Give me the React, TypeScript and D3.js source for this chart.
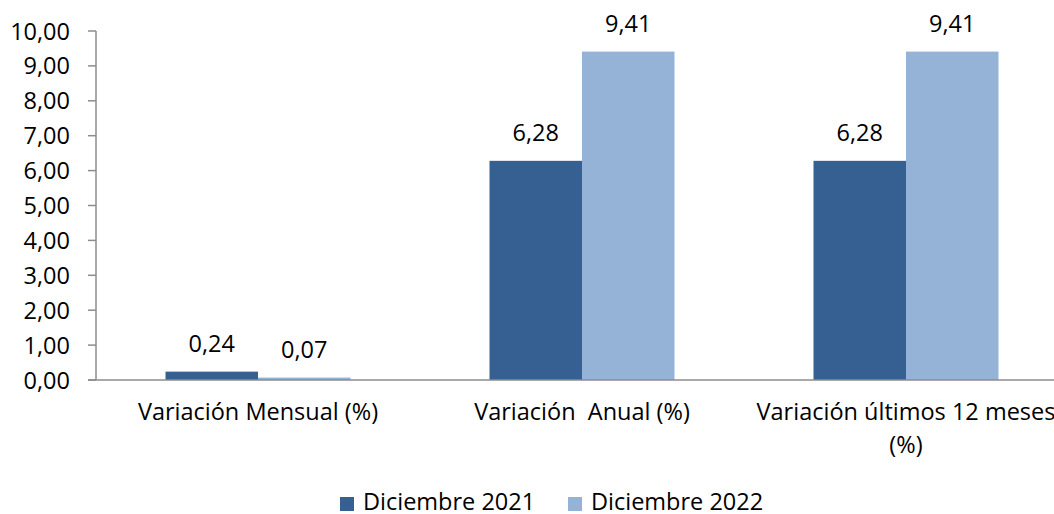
import React from "react";
import * as d3 from "d3";

const categories = ["Variación Mensual (%)", "Variación  Anual (%)", "Variación últimos 12 meses (%)"];
const categoryLines = [["Variación Mensual (%)"], ["Variación  Anual (%)"], ["Variación últimos 12 meses", "(%)"]];
const seriesNames = ["Diciembre 2021", "Diciembre 2022"];
const dic2021 = [0.24, 6.28, 6.28];
const dic2022 = [0.07, 9.41, 9.41];
const yTicks = [0, 1, 2, 3, 4, 5, 6, 7, 8, 9, 10];
const colors = ["#376092", "#95B3D7"];

const W = 1054;
const H = 514;
const FONT = "Open Sans, Liberation Sans, sans-serif";
const FS = 23.5;
const fmt = (v: number) => v.toFixed(2).replace(".", ",");

export default function App() {
  const left = 96;
  const top = 31;
  const bottom = 380;
  const x = d3.scaleBand<string>().domain(categories).range([left, left + 3 * 324]).paddingInner(0).paddingOuter(0);
  const xs = d3.scaleBand<string>().domain(seriesNames).range([0, 185]);
  const y = d3.scaleLinear().domain([0, 10]).range([bottom, top]);
  const series = [dic2021, dic2022];
  return (
    <svg width={W} height={H} style={{ position: "absolute", left: 0, top: 0, background: "#fff", whiteSpace: "pre" }} fontFamily={FONT}>
      {yTicks.map((t) => (
        <g key={t}>
          <line x1={left - 8} x2={left} y1={y(t)} y2={y(t)} stroke="#8c8c8c" strokeWidth={1.5} />
          <text x={70} y={y(t) + 8.5} textAnchor="end" fontSize={FS} fill="#000">
            {fmt(t)}
          </text>
        </g>
      ))}
      {categories.map((c, i) => {
        const gx = (x(c) as number) + (x.bandwidth() - 185) / 2;
        return (
          <g key={c}>
            {series.map((s, j) => {
              const bx = gx + (xs(seriesNames[j]) as number);
              return (
                <g key={j}>
                  <rect x={bx} y={y(s[i])} width={xs.bandwidth()} height={bottom - y(s[i])} fill={colors[j]} />
                  <text x={bx + xs.bandwidth() / 2} y={y(s[i]) - 19.5} textAnchor="middle" fontSize={FS} fill="#000">
                    {fmt(s[i])}
                  </text>
                </g>
              );
            })}
            {categoryLines[i].map((ln, k) => (
              <text key={k} x={(x(c) as number) + x.bandwidth() / 2} y={420 + k * 33} textAnchor="middle" fontSize={FS} fill="#000" xmlSpace="preserve">
                {ln}
              </text>
            ))}
          </g>
        );
      })}
      <line x1={left} x2={left} y1={top} y2={bottom} stroke="#8c8c8c" strokeWidth={1.5} />
      <line x1={left - 8} x2={W} y1={bottom} y2={bottom} stroke="#8c8c8c" strokeWidth={1.5} />
      {seriesNames.map((n, j) => {
        const lx = [340, 568][j];
        return (
          <g key={n}>
            <rect x={lx} y={497} width={14} height={14} fill={colors[j]} />
            <text x={lx + 23} y={510} fontSize={FS} fill="#000">
              {n}
            </text>
          </g>
        );
      })}
    </svg>
  );
}
